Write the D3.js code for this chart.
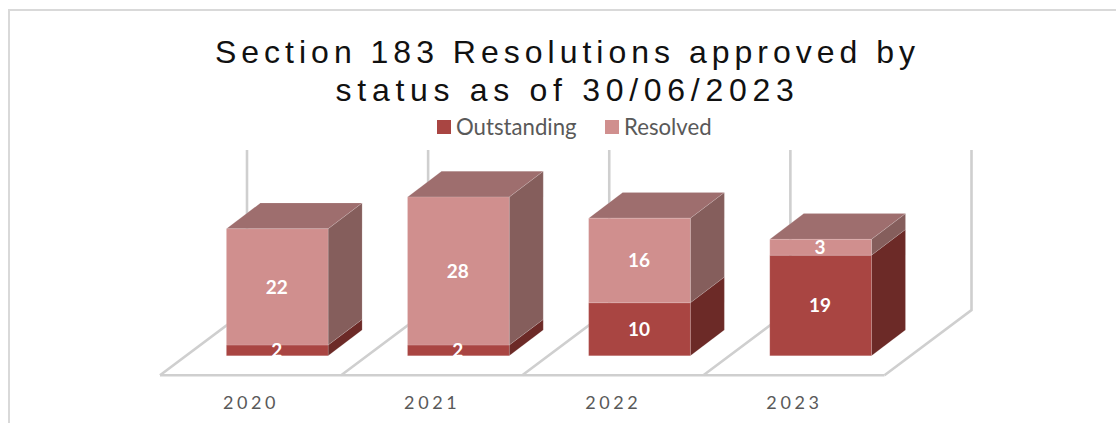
<!DOCTYPE html>
<html><head><meta charset="utf-8">
<script src="https://cdn.jsdelivr.net/npm/d3@7/dist/d3.min.js"></script>
<style>html,body{margin:0;padding:0;background:#fff;overflow:hidden}svg{display:block}</style>
</head><body><svg id="c" width="1116" height="423"></svg>
<script>
const categories = ["2020","2021","2022","2023"];
const outstanding = [2,2,10,19];
const resolved = [22,28,16,3];
const seriesNames = ["Outstanding","Resolved"];
const titleLines = ["Section 183 Resolutions approved by","status as of 30/06/2023"];

const svg = d3.select("#c");
const x = d3.scaleBand().domain(categories).range([160,884.5]).paddingInner(0).paddingOuter(0);
const y = d3.scaleLinear().domain([0,30]).range([355.7,197]);
const depthX = 34, depthY = 25.7, barW = 101.7, barLeftOffset = 66.4;
const wallX = 87, wallY = 65.3, floorY = 375.3, wallTop = 150;
const line = d3.line();
const palette = {
  Outstanding:{front:"#A94542",side:"#6C2A27",top:"#6C2A27"},
  Resolved:{front:"#D08F8E",side:"#855E5C",top:"#9E6E6E"}
};

// frame
svg.append("path").attr("d","M9,423V10H1116").attr("fill","none").attr("stroke","#d9d9d9").attr("stroke-width",2);

// walls + floor
const grid = svg.append("g").attr("fill","none").attr("stroke","#cfcfcf").attr("stroke-width",2.6);
const edges = categories.map(c=>x(c)).concat([x.range()[1]]);
edges.forEach(e=>{
  grid.append("path").attr("d",line([[e,floorY],[e+wallX,floorY-wallY],[e+wallX,wallTop]]));
});
grid.append("path").attr("d",line([[x.range()[0],floorY],[x.range()[1],floorY]]));

// bars
const bars = svg.append("g");
function box(cat,v0,v1,name,showTop){
  const x0 = x(cat)+barLeftOffset, x1 = x0+barW, y0=y(v0), y1=y(v1), p=palette[name];
  const g = bars.append("g").attr("stroke","#ffffff").attr("stroke-opacity",0.12).attr("stroke-width",1).attr("stroke-linejoin","round");
  g.append("path").attr("fill",p.side).attr("d",line([[x1,y0],[x1+depthX,y0-depthY],[x1+depthX,y1-depthY],[x1,y1]])+"Z");
  if(showTop) g.append("path").attr("fill",p.top).attr("d",line([[x0,y1],[x0+depthX,y1-depthY],[x1+depthX,y1-depthY],[x1,y1]])+"Z");
  g.append("path").attr("fill",p.front).attr("d",line([[x0,y0],[x1,y0],[x1,y1],[x0,y1]])+"Z");
}
categories.forEach((c,i)=>{
  box(c,0,outstanding[i],"Outstanding",false);
  box(c,outstanding[i],outstanding[i]+resolved[i],"Resolved",true);
});

// data labels
const lab = svg.append("g").attr("fill","#fff").attr("font-family","Lato").attr("font-weight",700).attr("font-size",19).attr("text-anchor","middle");
categories.forEach((c,i)=>{
  const cx = x(c)+barLeftOffset+barW/2-0.5;
  lab.append("text").attr("x",cx).attr("y",y(outstanding[i]/2)+7).text(outstanding[i]);
  lab.append("text").attr("x",cx).attr("y",y(outstanding[i]+resolved[i]/2)+7).text(resolved[i]);
});

// category labels
const tl = svg.append("g").attr("fill","#595959").attr("font-family","Lato").attr("font-size",18).attr("letter-spacing","3.6px").attr("text-anchor","middle");
categories.forEach(c=>{
  tl.append("text").attr("x",x(c)+x.bandwidth()/2+0.5).attr("y",408.5).text(c);
});

// title
const titleSpacing = [5,5.7], titleBase = [63,101];
const tt = svg.append("g").attr("fill","#111").attr("font-family","Liberation Sans").attr("font-size",32).attr("text-anchor","middle");
titleLines.forEach((t,i)=>{
  tt.append("text").attr("x",567.5).attr("y",titleBase[i]).attr("letter-spacing",titleSpacing[i]+"px").text(t);
});

// legend
const legend = svg.append("g").attr("font-family","Lato").attr("font-size",22.2).attr("fill","#595959");
const legendPos = [{sx:437,tx:456},{sx:605,tx:624}];
seriesNames.forEach((n,i)=>{
  legend.append("rect").attr("x",legendPos[i].sx).attr("y",120).attr("width",14).attr("height",14).attr("fill",palette[n].front);
  legend.append("text").attr("x",legendPos[i].tx).attr("y",135).text(n);
});
</script></body></html>
